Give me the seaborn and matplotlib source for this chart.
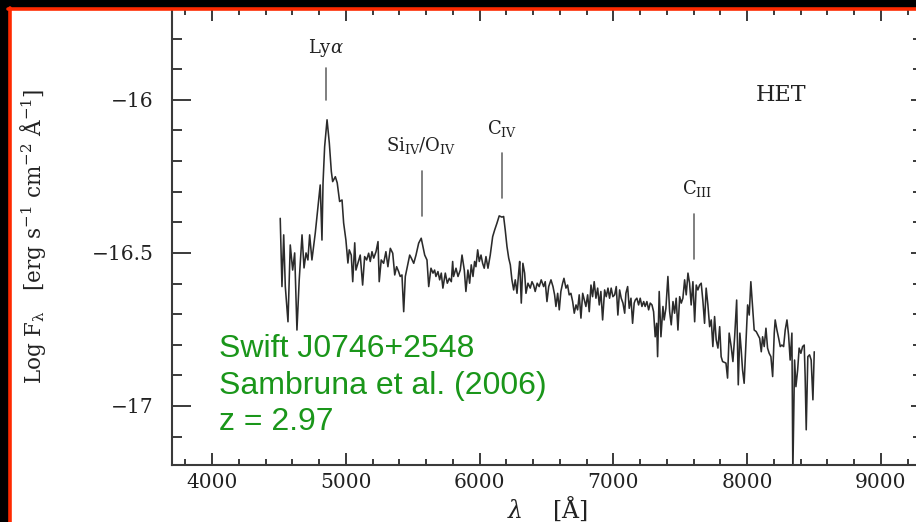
import matplotlib
matplotlib.use("Agg")
import matplotlib.pyplot as plt
import seaborn as sns
import pandas as pd
from matplotlib.ticker import MultipleLocator, FixedLocator
from matplotlib.lines import Line2D
from matplotlib.patches import Rectangle

# ---------------- data ----------------
wave = [4510, 4523, 4536, 4548, 4568, 4585, 4603, 4618, 4635, 4652, 4673, 4688, 4703, 4717, 4730,
        4747, 4772, 4797, 4809, 4822, 4830, 4842, 4860, 4877, 4892, 4902, 4922, 4936, 4954, 4972,
        4984, 5001, 5016, 5026, 5041, 5052, 5067, 5076, 5091, 5108, 5126, 5141,
        5156, 5171, 5183, 5196, 5209, 5226, 5241, 5250, 5265, 5283, 5300, 5315, 5333, 5351, 5366,
        5380, 5395, 5407, 5420, 5433, 5445, 5463, 5478, 5490, 5508, 5525, 5545, 5564, 5577, 5590,
        5607, 5620, 5637, 5652, 5664, 5674, 5689, 5702, 5714, 5726, 5744, 5759, 5774, 5789, 5799,
        5806, 5824, 5839, 5856, 5869, 5886, 5898, 5913, 5926, 5938, 5951, 5963, 5973, 5986, 5998,
        6011, 6023, 6035, 6048, 6063, 6080, 6098, 6113, 6130, 6147, 6167, 6180, 6192, 6205, 6218,
        6230, 6242, 6255, 6267, 6280, 6292, 6300, 6312, 6324, 6337, 6347, 6362, 6379, 6392, 6404,
        6416, 6431, 6446, 6461,
        6479, 6491, 6504, 6517, 6534, 6549, 6561, 6571, 6584, 6596, 6608, 6621, 6631, 6646, 6658,
        6670, 6683, 6696, 6708, 6721, 6733, 6745, 6758, 6771, 6783, 6795, 6808, 6820, 6833, 6845,
        6857, 6870, 6883, 6895, 6907, 6920, 6935, 6947, 6960, 6972, 6984, 6997, 7010, 7022, 7034,
        7047, 7059, 7072, 7085, 7094, 7107, 7119, 7132, 7144, 7156,
        7164, 7176, 7189, 7201, 7214, 7227, 7238, 7251, 7264, 7276, 7289, 7301, 7313, 7324, 7331,
        7343, 7356, 7371, 7380, 7393, 7408, 7421, 7433, 7446, 7458, 7470, 7483, 7496, 7508, 7520,
        7533, 7545, 7558, 7570, 7582, 7595, 7608, 7620, 7632, 7645, 7657, 7670, 7682, 7694, 7707,
        7720, 7732, 7744, 7757, 7769, 7782, 7795, 7806, 7817,
        7842, 7854, 7866, 7881, 7894, 7907, 7922, 7934, 7946, 7956, 7966, 7978, 7991, 8004, 8016,
        8028, 8043, 8053, 8068, 8081, 8094, 8106, 8116, 8128, 8141, 8153, 8165, 8178, 8191, 8203,
        8210, 8223, 8236, 8248, 8260, 8273, 8285, 8298, 8310, 8322, 8335, 8342, 8355, 8365, 8378,
        8389, 8402, 8415, 8427, 8434, 8442, 8454, 8467, 8479, 8492, 8502]

flux = [-16.387, -16.610, -16.441, -16.610, -16.725, -16.474, -16.556, -16.500, -16.752, -16.588,
        -16.441, -16.549, -16.500, -16.523, -16.441, -16.523, -16.435, -16.327, -16.278, -16.458,
        -16.271, -16.153, -16.065, -16.141, -16.234, -16.267, -16.251, -16.271, -16.332, -16.327,
        -16.402, -16.458, -16.533, -16.490, -16.507, -16.594, -16.467, -16.556, -16.533, -16.507,
        -16.605, -16.512,
        -16.523, -16.501, -16.528, -16.496, -16.517, -16.496, -16.463, -16.594, -16.523, -16.534,
        -16.496, -16.545, -16.485, -16.501, -16.572, -16.545, -16.561, -16.577, -16.572, -16.692,
        -16.577, -16.539, -16.507, -16.517, -16.534, -16.507, -16.468, -16.452, -16.479, -16.507,
        -16.523, -16.610, -16.550, -16.566, -16.556, -16.577, -16.561, -16.588, -16.566, -16.615,
        -16.566, -16.599, -16.583, -16.594, -16.528,
        -16.577, -16.550, -16.577, -16.556, -16.507, -16.556, -16.626, -16.556, -16.599, -16.539,
        -16.577, -16.528, -16.545, -16.490, -16.528, -16.507, -16.534, -16.550, -16.512, -16.550,
        -16.507, -16.447, -16.425, -16.403, -16.379, -16.383, -16.381, -16.425, -16.479, -16.517,
        -16.539, -16.588, -16.621, -16.588, -16.632, -16.566, -16.528, -16.664, -16.534, -16.566,
        -16.632, -16.599, -16.615, -16.594, -16.605, -16.626, -16.599, -16.610, -16.588,
        -16.610, -16.594, -16.659, -16.610, -16.588, -16.610, -16.637, -16.675, -16.632, -16.686,
        -16.626, -16.599, -16.583, -16.615, -16.605, -16.637, -16.632, -16.659, -16.697, -16.670,
        -16.686, -16.637, -16.713, -16.632, -16.654, -16.675, -16.637, -16.692, -16.605, -16.643,
        -16.594, -16.648, -16.615, -16.670, -16.626, -16.719, -16.621, -16.643, -16.615, -16.648,
        -16.615, -16.643, -16.637, -16.610, -16.703, -16.621, -16.648, -16.664, -16.697, -16.632,
        -16.610, -16.681, -16.648, -16.730, -16.664,
        -16.654, -16.648, -16.670, -16.648, -16.675, -16.659, -16.675, -16.659, -16.686, -16.664,
        -16.670, -16.692, -16.774, -16.730, -16.839, -16.626, -16.774, -16.675, -16.719, -16.681,
        -16.577, -16.692, -16.735, -16.659, -16.697, -16.648, -16.752, -16.643, -16.664, -16.648,
        -16.588, -16.637, -16.566, -16.599, -16.670, -16.594, -16.725, -16.605, -16.621, -16.605,
        -16.599, -16.659, -16.730, -16.615, -16.670, -16.741, -16.719, -16.806, -16.708, -16.784,
        -16.811, -16.741, -16.839, -16.855,
        -16.860, -16.909, -16.762, -16.806, -16.855, -16.774, -16.654, -16.931, -16.762, -16.817,
        -16.882, -16.926, -16.795, -16.670, -16.703, -16.594, -16.686, -16.752, -16.757, -16.768,
        -16.779, -16.823, -16.774, -16.806, -16.746, -16.811, -16.828, -16.839, -16.904, -16.762,
        -16.719, -16.752, -16.779, -16.806, -16.801, -16.806, -16.752, -16.719, -16.768, -16.850,
        -16.762, -17.220, -16.850, -16.937, -16.882, -16.811, -16.828, -16.806, -16.801, -16.904,
        -17.078, -16.839, -16.833, -16.850, -16.980, -16.823]

line_names = [r"$\mathrm{Ly}\alpha$", r"$\mathrm{Si_{IV}/O_{IV}}$", r"$\mathrm{C_{IV}}$", r"$\mathrm{C_{III}}$"]
line_wave = [4852, 5570, 6167, 7600]
line_top = [-15.895, -16.232, -16.173, -16.372]
line_bottom = [-16.000, -16.379, -16.320, -16.520]
label_wave = [4852, 5562, 6167, 7625]
label_flux = [-15.830, -16.150, -16.095, -16.291]

x_major = [4000, 5000, 6000, 7000, 8000, 9000]
y_major = [-17.0, -16.5, -16.0]
caption = ["Swift J0746+2548", "Sambruna et al. (2006)", "z = 2.97"]

# ---------------- style ----------------
sns.set_theme(style="white")
plt.rcParams["font.family"] = ["DejaVu Serif"]
plt.rcParams["mathtext.fontset"] = "dejavuserif"

W, H = 916, 522
fig = plt.figure(figsize=(W / 100, H / 100), dpi=100, facecolor="black")

# white slide panel with red border
fig.add_artist(Rectangle((9 / W, -0.1), 1.0, 1.1 - 8 / H, transform=fig.transFigure,
                         facecolor="white", edgecolor="none", zorder=-5))
red = "#ff2a00"
fig.add_artist(Line2D([9.5 / W, 9.5 / W], [0, 1 - 8 / H], transform=fig.transFigure,
                      color=red, lw=2.6, zorder=20))
fig.add_artist(Line2D([8 / W, 1], [1 - 8.5 / H, 1 - 8.5 / H], transform=fig.transFigure,
                      color=red, lw=2.6, zorder=20))

ax = fig.add_axes([172 / W, 57 / H, (921 - 172) / W, (465 - 9) / H])
ax.set_facecolor("none")

df = pd.DataFrame({"wave": wave, "flux": flux})
sns.lineplot(data=df, x="wave", y="flux", ax=ax, sort=False, estimator=None,
             color="#2b2b2b", lw=1.15)

ax.set_xlim(3701, 9300)
ax.set_ylim(-17.193, -15.703)
ax.set_xlabel("")
ax.set_ylabel("")

# emission-line markers and labels
for w, t, b in zip(line_wave, line_top, line_bottom):
    ax.plot([w, w], [b, t], color="#6a6a6a", lw=1.2)
for name, w, f in zip(line_names, label_wave, label_flux):
    ax.text(w, f, name, ha="center", va="center", fontsize=13, color="#222222")
ax.text(8253, -15.984, "HET", ha="center", va="center", fontsize=16, color="#222222")

spine_c = "#3a3a3a"
for s in ax.spines.values():
    s.set_color(spine_c)
    s.set_linewidth(1.5)

ax.xaxis.set_major_locator(FixedLocator(x_major))
ax.xaxis.set_minor_locator(MultipleLocator(200))
ax.yaxis.set_major_locator(FixedLocator(y_major))
ax.yaxis.set_minor_locator(MultipleLocator(0.1))
ax.tick_params(axis="x", which="both", direction="in", top=True, bottom=True,
               color=spine_c, width=1.4, labelsize=14.5, labelcolor="#222222", pad=6)
ax.tick_params(axis="x", which="major", length=8.6)
ax.tick_params(axis="x", which="minor", length=4.3)
ax.tick_params(axis="y", which="both", direction="in", left=True, right=False,
               color=spine_c, width=1.4, labelsize=14.5, labelcolor="#222222", pad=13)
ax.tick_params(axis="y", which="major", length=13.7)
ax.tick_params(axis="y", which="minor", length=7.2)
ax.set_xticklabels([f"{v}" for v in x_major])
ax.set_yticklabels(["\u221217", "\u221216.5", "\u221216"])

sec = ax.secondary_yaxis("right")
sec.yaxis.set_major_locator(FixedLocator(y_major))
sec.yaxis.set_minor_locator(MultipleLocator(0.1))
sec.tick_params(which="both", direction="in", color=spine_c, width=1.4, labelright=False)
sec.tick_params(which="major", length=7.5)
sec.tick_params(which="minor", length=6.0)

# axis titles
fig.text(33 / W, (H - 236) / H,
         r"$\mathrm{Log\ F_{\lambda}}\ \ \ [\mathrm{erg\ s^{-1}\ cm^{-2}\ \AA^{-1}}]$",
         rotation=90, ha="center", va="center", fontsize=15.5, color="#222222")
fig.text(548 / W, (H - 509) / H, r"$\lambda\ \ \ \ [\mathrm{\AA}]$",
         ha="center", va="center", fontsize=17, color="#222222")

# green caption
green = "#1a961a"
for txt, yb in zip(caption, [357, 394, 430]):
    fig.text(219 / W, (H - yb) / H, txt, ha="left", va="baseline", fontsize=23,
             color=green, family=["Liberation Sans", "DejaVu Sans"], zorder=10)

fig.savefig("out.png", dpi=100, facecolor=fig.get_facecolor())
